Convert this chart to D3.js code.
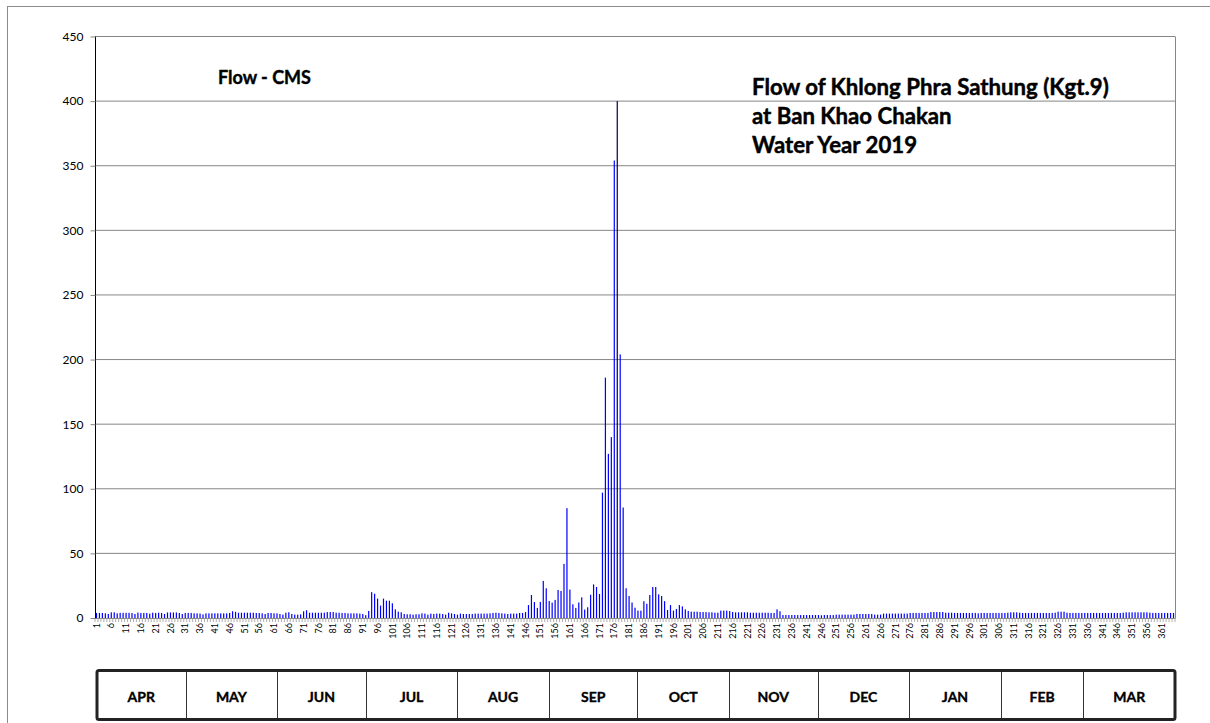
<!DOCTYPE html>
<html>
<head>
<meta charset="utf-8">
<script src="https://cdn.jsdelivr.net/npm/d3@7"></script>
<style>
  html, body { margin: 0; padding: 0; background: #fff; }
  svg { display: block; }
  text { font-family: Lato, "Open Sans", sans-serif; }
</style>
</head>
<body>
<svg id="chart" width="1210" height="723"></svg>
<script>
// ---------- DATA ----------
const flow = [
  3.9,3.9,3.9,3.6,3.1,4.4,4.4,3.6,4.0,4.0,
  4.0,4.0,3.9,3.1,4.2,3.9,3.9,3.9,3.4,4.1,
  3.9,4.1,3.9,3.1,4.3,4.3,4.3,4.3,3.9,3.1,
  3.9,3.9,3.9,3.6,3.6,3.4,2.8,3.6,3.6,3.6,
  3.6,3.6,3.6,3.6,3.6,3.9,5.2,4.8,4.1,4.1,
  4.1,4.1,4.1,4.1,3.9,3.9,3.6,3.1,3.9,3.9,
  3.6,3.6,3.1,2.6,4.1,4.4,3.1,2.6,2.6,2.8,
  5.2,6.0,4.1,4.1,4.1,4.1,4.1,4.1,4.6,4.6,
  4.6,4.1,4.1,3.9,3.9,3.6,3.6,3.6,3.6,3.4,
  3.1,2.2,5.4,20.0,18.8,15.0,9.6,15.0,13.4,13.4,
  11.4,6.7,4.9,4.4,3.1,2.9,2.9,2.6,2.9,2.9,
  3.6,3.4,2.6,3.4,3.1,3.4,3.4,3.1,2.6,4.1,
  3.6,3.1,2.6,3.4,3.1,3.1,3.1,3.1,3.4,3.4,
  3.4,3.4,3.4,3.6,3.9,4.1,3.9,3.6,3.4,3.1,
  3.4,3.4,3.4,3.9,3.9,4.6,10.0,17.8,12.4,7.8,
  12.4,28.7,23.0,13.2,11.9,14.0,21.7,20.9,41.9,85.0,
  22.0,10.6,7.8,12.0,16.0,6.5,8.3,18.0,26.0,24.0,
  18.6,97.0,186.0,127.0,140.0,354.0,400.0,204.0,85.5,23.0,
  17.0,12.0,8.0,5.7,5.7,13.0,11.0,17.8,24.0,24.0,
  18.3,17.0,13.0,6.2,10.0,5.7,7.0,10.0,9.0,6.7,
  5.4,4.9,4.9,4.9,4.6,4.6,4.6,4.4,4.4,4.1,
  4.1,5.7,5.7,5.7,5.4,4.6,4.4,4.4,4.4,4.4,
  4.4,4.1,4.1,4.1,4.1,4.1,4.1,4.1,3.9,3.9,
  6.7,5.2,2.3,2.3,2.3,2.3,2.3,2.3,2.3,2.3,
  2.3,2.3,2.3,2.3,2.3,2.1,2.3,2.3,2.3,2.3,
  2.6,2.6,2.6,2.6,2.6,2.6,2.6,3.1,3.1,3.1,
  3.1,3.1,3.1,2.6,2.6,2.6,3.4,3.4,3.4,3.4,
  3.4,3.4,3.4,3.4,3.4,3.9,3.9,3.9,3.9,3.9,
  3.9,3.9,4.6,4.6,4.6,4.6,4.6,4.1,4.1,4.1,
  3.9,3.9,3.9,3.9,3.9,3.9,3.9,3.9,3.6,3.9,
  3.9,3.9,3.9,3.9,3.9,3.9,3.9,3.9,4.1,4.4,
  4.4,4.4,4.1,3.9,3.9,3.9,3.9,3.9,3.9,3.9,
  3.9,3.9,3.9,3.9,4.1,4.9,4.9,4.9,4.1,3.9,
  3.9,3.9,3.9,3.9,3.9,3.9,3.9,3.9,3.9,3.9,
  3.9,3.9,3.9,3.9,3.9,3.9,3.9,4.1,4.4,4.4,
  4.4,4.4,4.4,4.4,4.4,4.4,4.1,3.9,3.9,3.9,
  3.9,3.9,3.9,3.9,3.9
];
const days = flow.map((v, i) => i + 1);
const dayTickLabels = days.filter(d => (d - 1) % 5 === 0);
const yTicks = [0, 50, 100, 150, 200, 250, 300, 350, 400, 450];
const months = ["APR","MAY","JUN","JUL","AUG","SEP","OCT","NOV","DEC","JAN","FEB","MAR"];
const monthDays = [30,31,30,31,31,30,31,30,31,31,28,31];
const titleLines = ["Flow of Khlong Phra Sathung (Kgt.9)", "at Ban Khao Chakan", "Water Year 2019"];
const unitLabel = "Flow - CMS";

// ---------- LAYOUT ----------
const svg = d3.select("#chart");
const plot = { left: 95, right: 1175, top: 36.5, bottom: 618 };

svg.append("rect").attr("width", 1210).attr("height", 723).attr("fill", "#fff");
// outer chart border
svg.append("rect").attr("x", 7.5).attr("y", 6.5).attr("width", 1240).attr("height", 800)
  .attr("fill", "none").attr("stroke", "#8c8c8c").attr("stroke-width", 1);

const x = d3.scaleBand().domain(days).range([plot.left, plot.right]).padding(0);
const y = d3.scaleLinear().domain([0, 450]).range([plot.bottom, plot.top]);

// gridlines
svg.append("g").selectAll("line").data(yTicks.filter(t => t > 0)).join("line")
  .attr("x1", plot.left).attr("x2", plot.right)
  .attr("y1", d => y(d)).attr("y2", d => y(d))
  .attr("stroke", "#868686").attr("stroke-width", 1);

// plot right border
svg.append("line").attr("x1", plot.right + 0.5).attr("x2", plot.right + 0.5)
  .attr("y1", plot.top).attr("y2", plot.bottom)
  .attr("stroke", "#868686");

// bars
const bw = 1.2;
svg.append("g").selectAll("rect").data(days).join("rect")
  .attr("x", d => x(d) + x.bandwidth() / 2 - bw / 2)
  .attr("width", bw)
  .attr("y", d => y(flow[d - 1]))
  .attr("height", d => y(0) - y(flow[d - 1]))
  .attr("fill", d => flow[d - 1] >= 400 ? "#000040" : "#0000ff");

// x axis (category axis)
const xAxis = d3.axisBottom(x).tickValues(dayTickLabels).tickSize(0).tickPadding(4);
const gx = svg.append("g").attr("transform", `translate(0,${plot.bottom})`).call(xAxis);
gx.select(".domain").attr("stroke", "#868686");
gx.selectAll("text")
  .attr("font-family", "'Open Sans', sans-serif").attr("font-size", 9).attr("fill", "#000")
  .attr("transform", "rotate(-90)")
  .attr("text-anchor", "end")
  .attr("x", -5).attr("y", 0).attr("dy", "0.35em")
  .each(function (d) {
    d3.select(this.parentNode).attr("transform", `translate(${x(d) + x.bandwidth() / 2},0)`);
  });
// minor day ticks at category boundaries
svg.append("g").selectAll("line").data(days.concat([days.length + 1])).join("line")
  .attr("x1", d => d <= days.length ? x(d) : plot.right)
  .attr("x2", d => d <= days.length ? x(d) : plot.right)
  .attr("y1", plot.bottom).attr("y2", plot.bottom + 4)
  .attr("stroke", "#9a9a9a").attr("stroke-width", 0.8);

// y axis
const yAxis = d3.axisLeft(y).tickValues(yTicks).tickSize(5).tickPadding(7);
const gy = svg.append("g").attr("transform", `translate(${plot.left + 0.5},0)`).call(yAxis);
gy.select(".domain").attr("stroke", "#000").attr("d", `M0,${plot.top}V${plot.bottom + 0.5}`);
gy.selectAll(".tick line").attr("stroke", "#868686");
gy.selectAll("text").attr("font-family", "'Open Sans', sans-serif").attr("font-size", 12).attr("fill", "#000");

// titles, fitted to measured widths
function fitText(sel, target) {
  const w = sel.node().getComputedTextLength();
  const fs = parseFloat(sel.attr("font-size"));
  return fs * target / w;
}
const t0 = svg.append("text").attr("x", 752).attr("y", 95)
  .attr("font-size", 20).attr("font-weight", "bold").text(titleLines[0]);
const tfs = fitText(t0, 357);
t0.attr("font-size", tfs);
svg.selectAll(".tline").data(titleLines.slice(1)).join("text")
  .attr("class", "tline").attr("x", 752).attr("y", (d, i) => 124 + i * 29)
  .attr("font-size", tfs).attr("font-weight", "bold").text(d => d);

const u = svg.append("text").attr("x", 218).attr("y", 84)
  .attr("font-size", 18).attr("font-weight", "bold").text(unitLabel);
u.attr("font-size", fitText(u, 93));

svg.selectAll("text.tline").attr("stroke", "#000").attr("stroke-width", 0.45);
t0.attr("stroke", "#000").attr("stroke-width", 0.45);
u.attr("stroke", "#000").attr("stroke-width", 0.4);

// month table
const cum = [0];
monthDays.forEach(m => cum.push(cum[cum.length - 1] + m));
const mx = d3.scaleLinear().domain([0, cum[cum.length - 1]]).range([97, 1175]);
const boxTop = 670.5, boxBot = 719.5;
svg.append("g").selectAll("line").data(cum.slice(1, -1)).join("line")
  .attr("x1", d => Math.round(mx(d)) + 0.5).attr("x2", d => Math.round(mx(d)) + 0.5)
  .attr("y1", boxTop).attr("y2", boxBot)
  .attr("stroke", "#333").attr("stroke-width", 1);
svg.append("rect").attr("x", mx(0)).attr("y", boxTop)
  .attr("width", mx(cum[cum.length - 1]) - mx(0)).attr("height", boxBot - boxTop)
  .attr("rx", 2).attr("fill", "none").attr("stroke", "#222").attr("stroke-width", 3);
svg.append("g").selectAll("text").data(months).join("text")
  .attr("x", (d, i) => (mx(cum[i]) + mx(cum[i + 1])) / 2)
  .attr("y", 702)
  .attr("text-anchor", "middle").attr("font-size", 14).attr("font-weight", "bold")
  .attr("stroke", "#000").attr("stroke-width", 0.35)
  .text(d => d);
</script>
</body>
</html>
